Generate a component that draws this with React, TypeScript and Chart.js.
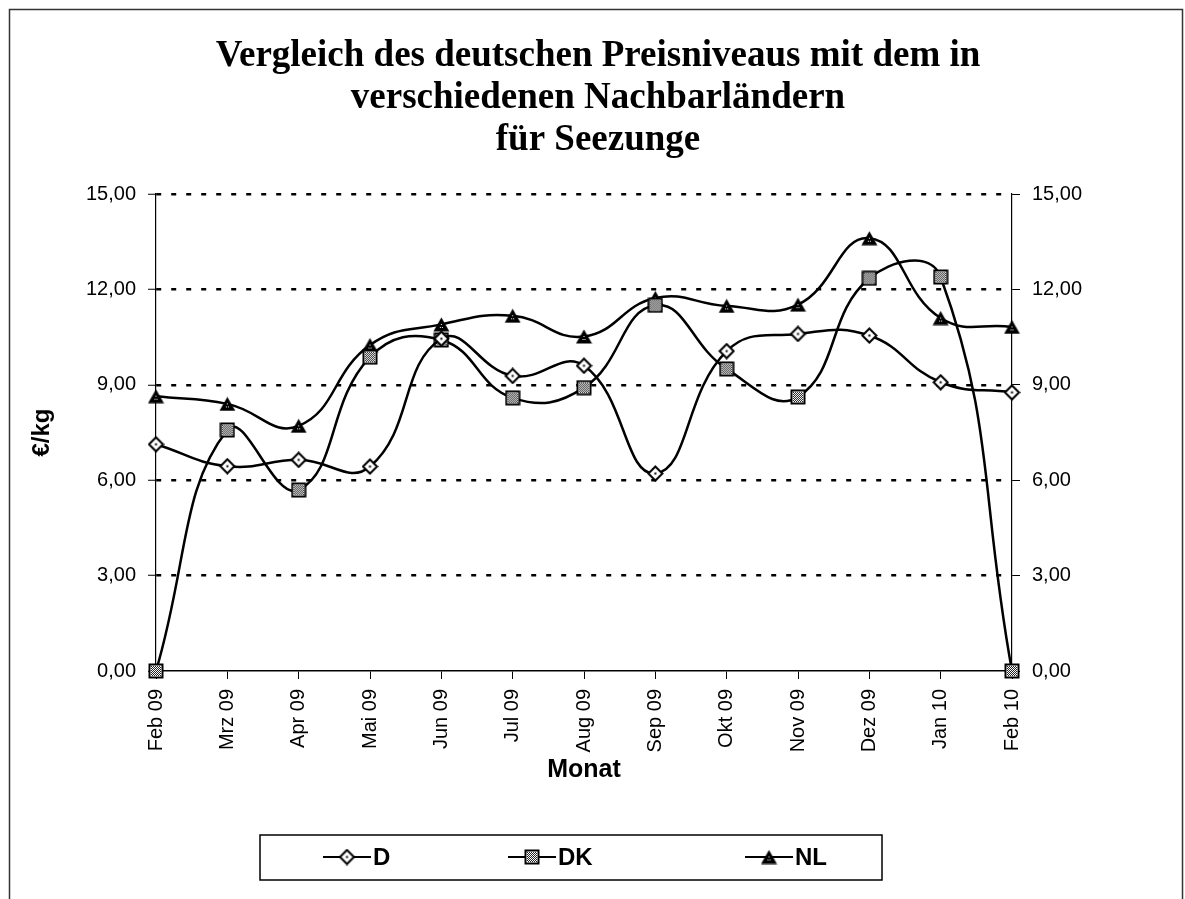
import React, { useEffect, useRef } from "react";
import { Chart, registerables } from "chart.js";

Chart.register(...registerables);

const titleLines = [
  "Vergleich des deutschen Preisniveaus mit dem in",
  "verschiedenen Nachbarländern",
  "für Seezunge",
];
const months = [
  "Feb 09", "Mrz 09", "Apr 09", "Mai 09", "Jun 09", "Jul 09", "Aug 09",
  "Sep 09", "Okt 09", "Nov 09", "Dez 09", "Jan 10", "Feb 10",
];
const seriesD = [7.13, 6.44, 6.64, 6.43, 10.45, 9.28, 9.6, 6.21, 10.06, 10.6, 10.55, 9.08, 8.76];
const seriesDK = [0, 7.58, 5.69, 9.87, 10.41, 8.59, 8.91, 11.5, 9.5, 8.62, 12.35, 12.39, 0];
const seriesNL = [8.64, 8.4, 7.71, 10.25, 10.9, 11.17, 10.52, 11.73, 11.48, 11.52, 13.61, 11.1, 10.82];
const seriesNames = ["D", "DK", "NL"];
const yMin = 0;
const yMax = 15;
const yStep = 3;
const yAxisTitle = "€/kg";
const xAxisTitle = "Monat";

const SANS = '"Liberation Sans", Arial, sans-serif';
const SERIF = '"Liberation Serif", "Times New Roman", serif';

function makeCanvas(w: number, h: number) {
  const c = document.createElement("canvas");
  c.width = w;
  c.height = h;
  return c;
}

function makeDiamond() {
  const c = makeCanvas(17, 17);
  const g = c.getContext("2d")!;
  g.beginPath();
  g.moveTo(8.5, 1.5);
  g.lineTo(15.5, 8.5);
  g.lineTo(8.5, 15.5);
  g.lineTo(1.5, 8.5);
  g.closePath();
  g.fillStyle = "#fff";
  g.fill();
  g.lineWidth = 2;
  g.strokeStyle = "#000";
  g.stroke();
  g.fillStyle = "#000";
  g.fillRect(7.5, 7.5, 2, 2);
  return c;
}

function makeSquare() {
  const c = makeCanvas(16, 16);
  const g = c.getContext("2d")!;
  g.fillStyle = "#fff";
  g.fillRect(1, 1, 14, 14);
  g.fillStyle = "#222";
  for (let i = 3; i < 13; i++) {
    for (let j = 3; j < 13; j++) {
      if ((i + j) % 2 === 0) g.fillRect(i, j, 1, 1);
    }
  }
  g.lineWidth = 2;
  g.strokeStyle = "#000";
  g.strokeRect(1.5, 1.5, 13, 13);
  return c;
}

function makeTriangle() {
  const c = makeCanvas(17, 15);
  const g = c.getContext("2d")!;
  g.beginPath();
  g.moveTo(8.5, 0.5);
  g.lineTo(16.5, 14.5);
  g.lineTo(0.5, 14.5);
  g.closePath();
  g.fillStyle = "#000";
  g.fill();
  g.fillStyle = "#fff";
  g.fillRect(8, 7, 1, 1);
  g.fillRect(7, 10, 1, 1);
  g.fillRect(9, 10, 1, 1);
  return c;
}

export default function App() {
  const ref = useRef<HTMLCanvasElement | null>(null);

  useEffect(() => {
    document.body.style.margin = "0";
    document.body.style.overflow = "hidden";
    const canvas = ref.current;
    if (!canvas) return;
    const markers = [makeDiamond(), makeSquare(), makeTriangle()];
    const values = [seriesD, seriesDK, seriesNL];

    const decor = {
      id: "decor",
      beforeDraw(chart: any) {
        const ctx = chart.ctx;
        ctx.save();
        ctx.fillStyle = "#fff";
        ctx.fillRect(0, 0, chart.width, chart.height);
        ctx.restore();
      },
      afterDraw(chart: any) {
        const ctx = chart.ctx;
        ctx.save();
        // outer frame
        ctx.strokeStyle = "#333";
        ctx.lineWidth = 1.5;
        ctx.strokeRect(9.5, 9.5, 1173, 905);
        // title
        ctx.fillStyle = "#000";
        ctx.font = `bold 37px ${SERIF}`;
        ctx.textAlign = "center";
        ctx.textBaseline = "middle";
        const ty = [56, 98, 140];
        titleLines.forEach((t, i) => ctx.fillText(t, 598, ty[i]));
        // legend box
        ctx.lineWidth = 1.5;
        ctx.strokeStyle = "#000";
        ctx.strokeRect(260, 835, 622, 45);
        const lx = [323, 508, 745];
        const ly = 857;
        ctx.font = `bold 24px ${SANS}`;
        ctx.textAlign = "left";
        chart.data.datasets.forEach((ds: any, i: number) => {
          const x0 = lx[i];
          ctx.beginPath();
          ctx.moveTo(x0, ly);
          ctx.lineTo(x0 + 48, ly);
          ctx.lineWidth = 2;
          ctx.strokeStyle = "#000";
          ctx.stroke();
          const m = markers[i];
          ctx.drawImage(m, x0 + 24 - m.width / 2, ly - m.height / 2);
          ctx.fillStyle = "#000";
          ctx.fillText(ds.label, x0 + 50, ly + 1);
        });
        ctx.restore();
      },
    };

    const fmt = (v: number) => v.toFixed(2).replace(".", ",");

    const chart = new Chart(canvas, {
      type: "line",
      data: {
        labels: months,
        datasets: values.map((vals, i) => ({
          label: seriesNames[i],
          data: vals,
          borderColor: "#000",
          backgroundColor: "#000",
          borderWidth: 2.5,
          tension: 0.45,
          pointStyle: markers[i] as any,
          pointRadius: 7,
          clip: false as any,
          yAxisID: "y",
        })),
      },
      options: {
        animation: false,
        responsive: false,
        devicePixelRatio: 1,
        layout: { padding: { left: 20, right: 73, top: 194, bottom: 114 } },
        plugins: {
          legend: { display: false },
          title: { display: false },
          tooltip: { enabled: false },
        },
        scales: {
          x: {
            type: "category",
            offset: false,
            grid: {
              drawOnChartArea: false,
              drawTicks: true,
              tickLength: 8,
              tickColor: "#000",
              tickWidth: 1,
            },
            border: { display: true, color: "#000", width: 1.5 },
            ticks: {
              autoSkip: false,
              maxRotation: 90,
              minRotation: 90,
              padding: 10,
              color: "#000",
              font: { family: SANS, size: 20 },
            },
            title: {
              display: true,
              text: xAxisTitle,
              color: "#000",
              font: { family: SANS, size: 25, weight: "bold" },
              padding: { top: 0, bottom: 0 },
            },
            afterFit(scale: any) {
              scale.height = 114;
            },
          },
          y: {
            position: "left",
            min: yMin,
            max: yMax,
            grid: {
              color: (c: any) => (c.tick && c.tick.value === 0 ? "rgba(0,0,0,0)" : "#000"),
              lineWidth: 2.5,
              drawTicks: true,
              tickLength: 8,
              tickColor: "#000",
              tickWidth: 1,
              tickBorderDash: [],
            } as any,
            border: { display: true, color: "#000", width: 1.2, dash: [5, 10] },
            ticks: {
              stepSize: yStep,
              padding: 12,
              color: "#000",
              font: { family: SANS, size: 20 },
              callback: (v: any) => fmt(Number(v)),
            },
            title: {
              display: true,
              text: yAxisTitle,
              color: "#000",
              font: { family: SANS, size: 24, weight: "bold" },
              padding: { top: 8, bottom: 0 },
            },
            afterFit(scale: any) {
              scale.width = 136;
            },
          },
          y2: {
            position: "right",
            min: yMin,
            max: yMax,
            grid: {
              drawOnChartArea: false,
              drawTicks: true,
              tickLength: 8,
              tickColor: "#000",
              tickWidth: 1,
            },
            border: { display: true, color: "#000", width: 1.2 },
            ticks: {
              stepSize: yStep,
              padding: 12,
              color: "#000",
              font: { family: SANS, size: 20 },
              callback: (v: any) => fmt(Number(v)),
            },
            afterFit(scale: any) {
              scale.width = 100;
            },
          },
        },
      } as any,
      plugins: [decor],
    });
    return () => chart.destroy();
  }, []);

  return (
    <div style={{ width: 1185, height: 899, position: "relative" }}>
      <canvas ref={ref} width={1185} height={899} style={{ display: "block" }} />
    </div>
  );
}
